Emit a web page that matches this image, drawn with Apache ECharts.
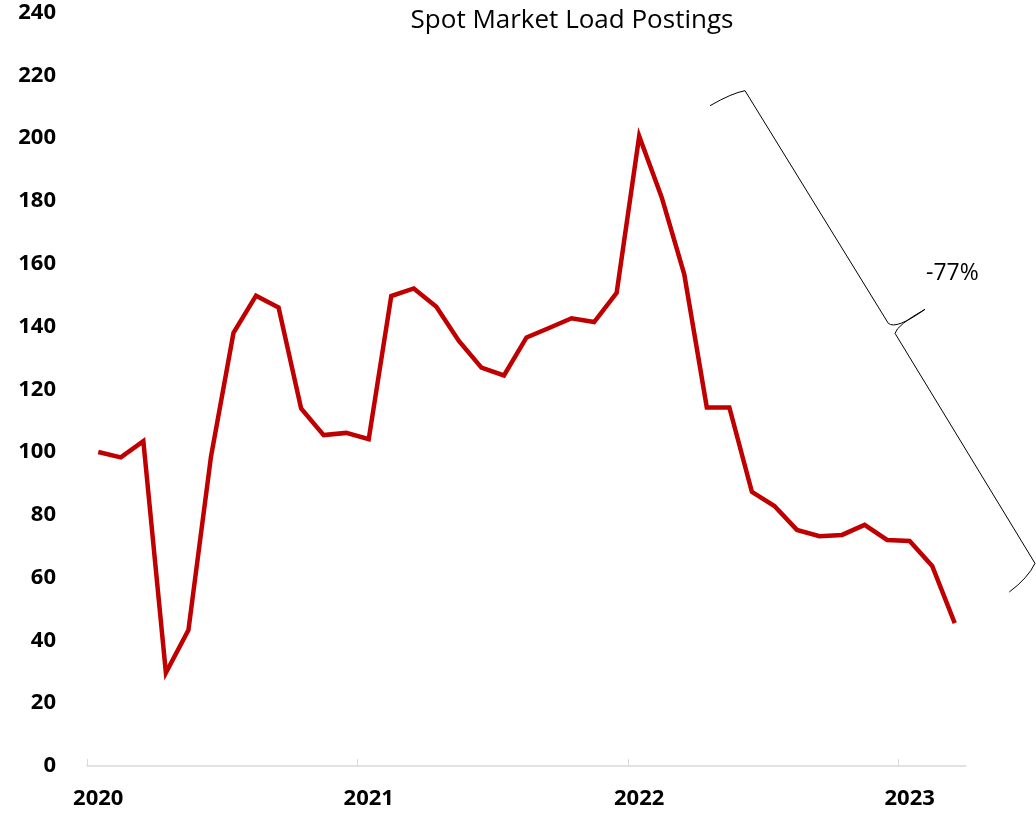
<!DOCTYPE html>
<html>
<head>
<meta charset="utf-8">
<script src="https://cdn.jsdelivr.net/npm/echarts@6/dist/echarts.min.js"></script>
<style>
html,body{margin:0;padding:0;background:#fff;}
#chart{width:1036px;height:825px;}
</style>
</head>
<body>
<div id="chart"></div>
<script>
// Months Jan 2020 .. Mar 2023
var years = ['2020', '2021', '2022', '2023'];
var monthsPerYear = [12, 12, 12, 3];
var loadPostings = [
  100, 98.3, 103.5, 29.7, 43.3, 98.5, 138.0, 149.8, 146.0, 113.9, 105.4, 106.1,
  104.1, 149.7, 152.1, 146.3, 135.4, 126.9, 124.4, 136.5, 139.5, 142.6, 141.4, 150.7,
  200.6, 181.1, 156.6, 114.2, 114.2, 87.3, 82.8, 75.2, 73.2, 73.6, 76.8, 72.0,
  71.7, 63.7, 45.5
];
var yTicks = [0, 20, 40, 60, 80, 100, 120, 140, 160, 180, 200, 220, 240];
var chartTitle = 'Spot Market Load Postings';
var changeLabel = '-77%';

var categories = [];
years.forEach(function (y, i) {
  for (var m = 1; m <= monthsPerYear[i]; m++) {
    categories.push(y + '-' + (m < 10 ? '0' + m : m));
  }
});
// month boundaries (start of each month plus the end of the last one) for year ticks
var boundaries = categories.concat(['2023-04']);

var braceStyle = {stroke: '#000000', lineWidth: 1, fill: null};
function bez(x1, y1, cx, cy, x2, y2) {
  return {type: 'bezierCurve', shape: {x1: x1, y1: y1, cpx1: cx, cpy1: cy, x2: x2, y2: y2}, style: braceStyle, silent: true};
}
function seg(x1, y1, x2, y2) {
  return {type: 'line', shape: {x1: x1, y1: y1, x2: x2, y2: y2}, style: braceStyle, silent: true};
}

var labelFont = {fontFamily: 'Open Sans', fontSize: 22, fontWeight: 'bold', color: '#000000'};

var chart = echarts.init(document.getElementById('chart'), null, {renderer: 'canvas'});
chart.setOption({
  animation: false,
  backgroundColor: '#ffffff',
  title: {
    text: chartTitle,
    left: 567,
    top: 3,
    textAlign: 'center',
    textStyle: {fontFamily: 'Open Sans', fontSize: 26, fontWeight: 'normal', color: '#000000'}
  },
  grid: {left: 87, right: 70, top: 12.5, bottom: 59, containLabel: false},
  xAxis: [{
    type: 'category',
    data: categories,
    boundaryGap: true,
    axisLine: {show: true, lineStyle: {color: '#d9d9d9', width: 1.5}},
    axisTick: {show: false},
    axisLabel: Object.assign({
      interval: 11,
      margin: 22,
      formatter: function (v) { return v.slice(0, 4); }
    }, labelFont),
    splitLine: {show: false}
  }, {
    type: 'category',
    data: boundaries,
    position: 'bottom',
    boundaryGap: false,
    axisLine: {show: false},
    axisLabel: {show: false},
    axisTick: {show: true, inside: true, length: 7, interval: 11, lineStyle: {color: '#d9d9d9', width: 1}},
    splitLine: {show: false}
  }],
  yAxis: {
    type: 'value',
    min: yTicks[0],
    max: yTicks[yTicks.length - 1],
    interval: yTicks[1] - yTicks[0],
    axisLine: {show: false},
    axisTick: {show: false},
    splitLine: {show: false},
    axisLabel: Object.assign({margin: 31}, labelFont)
  },
  series: [{
    type: 'line',
    xAxisIndex: 0,
    data: loadPostings,
    symbol: 'none',
    lineStyle: {color: '#c00000', width: 4.5, join: 'miter'},
    itemStyle: {color: '#c00000'}
  }],
  graphic: [
    bez(710, 105.7, 732, 93, 745, 90.7),
    seg(745, 90.7, 888.3, 323.3),
    bez(888.3, 323.3, 896, 330, 925, 309.3),
    bez(925, 309.3, 897, 325, 895, 333.3),
    seg(895, 333.3, 1035, 563.3),
    bez(1035, 563.3, 1028, 578, 1009.3, 592),
    {
      type: 'text',
      left: 926,
      top: 262,
      style: {text: changeLabel, font: '23px "Open Sans"', fill: '#000000'}
    }
  ]
});
</script>
</body>
</html>
